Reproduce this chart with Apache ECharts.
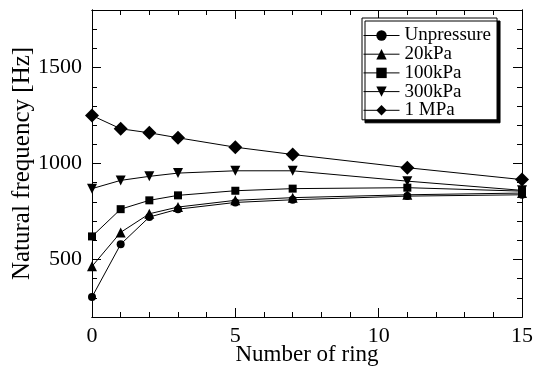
<!DOCTYPE html>
<html>
<head>
<meta charset="utf-8">
<script src="https://cdn.jsdelivr.net/npm/echarts@6/dist/echarts.min.js"></script>
<style>html,body{margin:0;padding:0;background:#fff;}#c{width:533px;height:371px;}</style>
</head>
<body>
<div id="c"></div>
<script>
var rings = [0, 1, 2, 3, 5, 7, 11, 15];
var unpressure = [304, 579, 721, 762, 797, 811, 830, 837];
var kPa20 = [464, 641, 738, 773, 808, 822, 837, 846];
var kPa100 = [620, 762, 808, 834, 858, 869, 874, 856];
var kPa300 = [869, 912, 933, 950, 962, 962, 908, 860];
var MPa1 = [1250, 1181, 1160, 1134, 1085, 1047, 978, 916];
var seriesNames = ['Unpressure', '20kPa', '100kPa', '300kPa', '1 MPa'];
var xMajor = [0, 5, 10, 15];
var yMajor = [500, 1000, 1500];

var FONT = 'Liberation Serif';
function pairs(v){ return rings.map(function(r,i){ return [r, v[i]]; }); }
function plain(v){ return String(v); }

function xAx(pos, major, labels, extra){
  var tick = {show:true, inside:true, length: major ? 9 : 5, lineStyle:{color:'#000', width:1}};
  if (major) tick.customValues = xMajor;
  var a = {
    type:'value', position:pos, min:0, max:15, interval:1,
    axisLine:{show:true, onZero:false, lineStyle:{color:'#000', width:1}},
    axisTick: tick,
    axisLabel:{show:labels, customValues:xMajor, formatter:plain, color:'#000', fontFamily:FONT, fontSize:22, margin:8},
    splitLine:{show:false}
  };
  for (var k in extra) a[k] = extra[k];
  return a;
}
function yAx(pos, major, labels, extra){
  var tick = {show:true, inside:true, length: major ? 9 : 5, lineStyle:{color:'#000', width:1}};
  if (major) tick.customValues = yMajor;
  var a = {
    type:'value', position:pos, min:200, max:1800, interval:100,
    axisLine:{show:true, onZero:false, lineStyle:{color:'#000', width:1}},
    axisTick: tick,
    axisLabel:{show:labels, customValues:yMajor, formatter:plain, color:'#000', fontFamily:FONT, fontSize:22, margin:10},
    splitLine:{show:false}
  };
  for (var k in extra) a[k] = extra[k];
  return a;
}

var symbols = ['circle', 'triangle', 'rect', 'triangle', 'diamond'];
var sizes = [8, 10, 8, 10, 14];
var rot = [0, 0, 0, 180, 0];
var datas = [unpressure, kPa20, kPa100, kPa300, MPa1];

var series = datas.map(function(d, i){
  return {
    name: seriesNames[i], type:'line', data: pairs(d),
    xAxisIndex:0, yAxisIndex:0,
    symbol: symbols[i], symbolSize: sizes[i], symbolRotate: rot[i],
    showAllSymbol:true,
    lineStyle:{color:'#000', width:1},
    itemStyle:{color:'#000'},
    animation:false
  };
});

var chart = echarts.init(document.getElementById('c'), null, {renderer:'canvas'});
chart.setOption({
  backgroundColor:'#fff',
  animation:false,
  grid:{left:92, right:11, top:10, bottom:54, containLabel:false, outerBoundsMode:'none'},
  xAxis:[
    xAx('bottom', false, true, {name:'Number of ring', nameLocation:'middle', nameGap:26, nameMoveOverlap:false,
       nameTextStyle:{color:'#000', fontFamily:FONT, fontSize:23}}),
    xAx('bottom', true, false, {}),
    xAx('top', false, false, {}),
    xAx('top', true, false, {})
  ],
  yAxis:[
    yAx('left', false, true, {name:'Natural frequency [Hz]', nameLocation:'middle', nameGap:57, nameMoveOverlap:false,
       nameTextStyle:{color:'#000', fontFamily:FONT, fontSize:25}}),
    yAx('left', true, false, {}),
    yAx('right', false, false, {}),
    yAx('right', true, false, {})
  ],
  legend:{
    show:true, orient:'vertical', left:362, top:18,
    data: seriesNames,
    itemWidth:36, itemHeight:13, itemGap:-0.3,
    padding:[8, 6, 0, 1],
    backgroundColor:'#fff', borderColor:'#000', borderWidth:1,
    shadowColor:'#000', shadowOffsetX:3, shadowOffsetY:3, shadowBlur:0,
    textStyle:{color:'#000', fontFamily:FONT, fontSize:19, lineHeight:14},
    itemStyle:{color:'#000'},
    lineStyle:{color:'#000', width:1}
  },
  series: series
});
</script>
</body>
</html>
